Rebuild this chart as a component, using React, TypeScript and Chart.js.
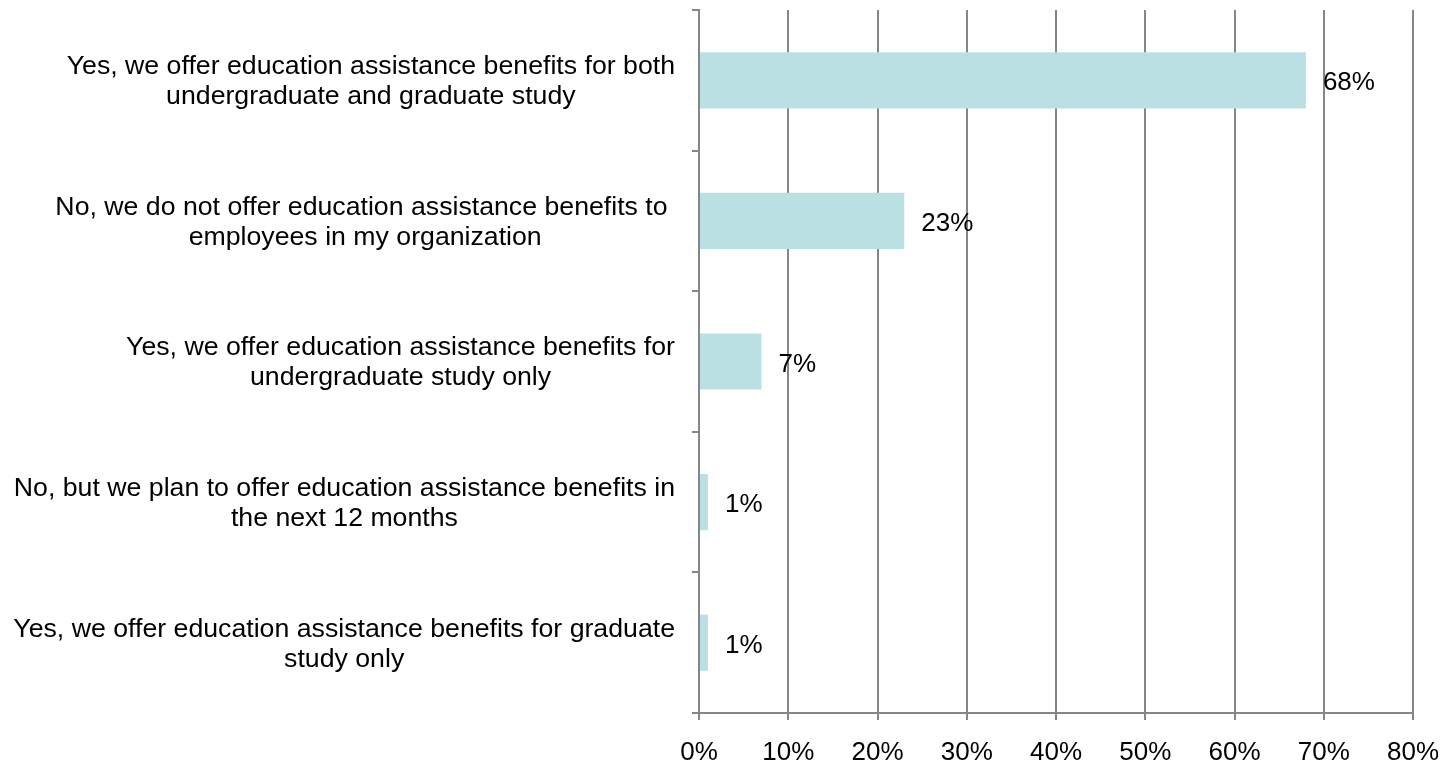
import React, { useEffect, useRef } from "react";
import { Chart, registerables } from "chart.js";

Chart.register(...registerables);

const categoryLines: string[][] = [
  ["Yes, we offer education assistance benefits for both", "undergraduate and graduate study"],
  ["No, we do not offer education assistance benefits to ", "employees in my organization"],
  ["Yes, we offer education assistance benefits for", "undergraduate study only"],
  ["No, but we plan to offer education assistance benefits in", "the next 12 months"],
  ["Yes, we offer education assistance benefits for graduate", "study only"],
];
const values: number[] = [68, 23, 7, 1, 1];
const xTicks: number[] = [0, 10, 20, 30, 40, 50, 60, 70, 80];

const FONT = '"Liberation Sans", Arial, sans-serif';
const FONT_SIZE = 26;
const CAT_FONT_SIZE = 26.7;
const GRID = "#868686";
const BAR = "#bbe0e3";

const labelPlugin = {
  id: "customLabels",
  afterDraw(chart: any) {
    const ctx = chart.ctx as CanvasRenderingContext2D;
    const yScale = chart.scales.y;
    const xScale = chart.scales.x;
    ctx.save();
    ctx.fillStyle = "#000";
    ctx.textBaseline = "middle";
    const lineH = 30;
    const rightEdge = chart.chartArea.left - 24;
    categoryLines.forEach((lines, i) => {
      const cy = yScale.getPixelForValue(i) + 1.5;
      ctx.font = `${CAT_FONT_SIZE}px ${FONT}`;
      const widest = Math.max(...lines.map((l) => ctx.measureText(l).width));
      const cx = rightEdge - widest / 2;
      ctx.textAlign = "center";
      lines.forEach((l, j) => {
        const y = cy + (j - (lines.length - 1) / 2) * lineH;
        ctx.fillText(l, cx, y);
      });
      // value label
      ctx.font = `${FONT_SIZE}px ${FONT}`;
      ctx.textAlign = "left";
      const xEnd = xScale.getPixelForValue(values[i]);
      ctx.fillText(`${values[i]}%`, xEnd + 17, cy + 1.5);
    });
    ctx.restore();
  },
};

export default function App() {
  const ref = useRef<HTMLCanvasElement | null>(null);
  useEffect(() => {
    if (!ref.current) return;
    const chart = new Chart(ref.current, {
      type: "bar",
      data: {
        labels: categoryLines.map((l) => l.join(" ")),
        datasets: [
          {
            data: values,
            backgroundColor: BAR,
            borderWidth: 0,
            barPercentage: 0.4,
            categoryPercentage: 1,
          },
        ],
      },
      options: {
        indexAxis: "y",
        animation: false,
        responsive: false,
        devicePixelRatio: 1,
        layout: { padding: { left: 692, top: 10, right: 33, bottom: 0 } },
        plugins: { legend: { display: false }, tooltip: { enabled: false } },
        scales: {
          x: {
            min: 0,
            max: 80,
            afterBuildTicks: (scale: any) => {
              scale.ticks = xTicks.map((v) => ({ value: v }));
            },
            afterFit: (scale: any) => {
              scale.height = 53;
              scale.paddingLeft = 0;
              scale.paddingRight = 0;
            },
            ticks: {
              callback: (v: any) => `${v}%`,
              font: { family: FONT, size: FONT_SIZE, lineHeight: 1 },
              color: "#000",
              padding: 20,
              maxRotation: 0,
            },
            grid: { color: GRID, lineWidth: 2, tickLength: 7, drawTicks: true },
            border: { color: GRID, width: 2 },
          },
          y: {
            offset: true,
            ticks: { display: false },
            grid: { offset: true, drawOnChartArea: false, color: GRID, lineWidth: 2, tickLength: 7 },
            border: { color: GRID, width: 2 },
          },
        },
      },
      plugins: [labelPlugin],
    });
    return () => chart.destroy();
  }, []);
  return (
    <canvas
      ref={ref}
      width={1446}
      height={766}
      style={{ position: "absolute", left: 0, top: 0, display: "block" }}
    />
  );
}
